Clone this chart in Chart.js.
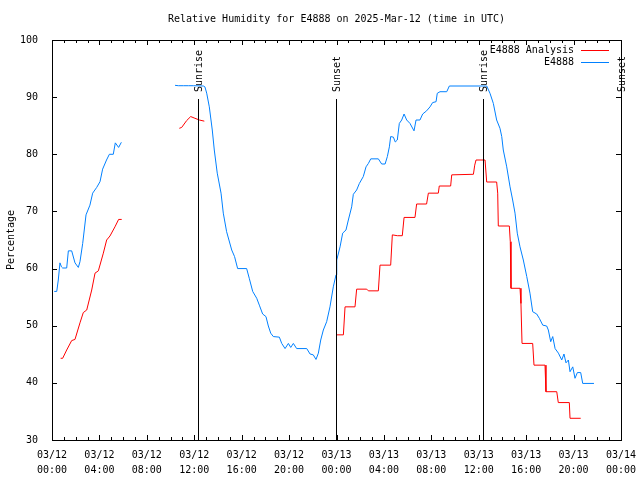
<!DOCTYPE html>
<html>
<head>
<meta charset="utf-8">
<title>Relative Humidity for E4888</title>
<script src="https://cdn.jsdelivr.net/npm/chart.js@4.4.1/dist/chart.umd.min.js"></script>
<style>
    body { margin: 0; background: #fff; }
    canvas { display: block; }
</style>
</head>
<body>
<canvas id="rhChart" width="640" height="480"></canvas>
<script>
// hours since 03/12 00:00 UTC
const stationHours = [0.19, 0.4, 0.53, 0.67, 0.8, 0.9, 1.24, 1.38, 1.66, 1.94, 2.22, 2.36, 2.59, 2.87, 3.2, 3.43, 3.77, 4.05, 4.27, 4.6, 4.84, 5.17, 5.34, 5.62, 5.85,
    8,
    10.38, 10.66, 11.08, 11.5, 11.92, 12.77, 12.9, 13.05, 13.27, 13.52, 13.69, 13.94, 14.26, 14.45, 14.73, 15.16, 15.4, 15.66, 16.42, 16.64, 16.93, 17.27, 17.49, 17.77,
    18.05, 18.25, 18.45, 18.67, 19.18, 19.38, 19.66, 19.94, 20.14, 20.36, 20.64, 21.49, 21.77, 22.04, 22.27, 22.47, 22.67, 22.89, 23.17, 23.45, 23.73, 23.96,
    24.02, 24.3, 24.52, 24.8, 25.0, 25.28, 25.42, 25.7, 25.93, 26.26, 26.49, 26.69, 26.89, 27.53, 27.81, 28.1, 28.29, 28.46, 28.57, 28.8, 28.96, 29.13, 29.3,
    29.5, 29.7, 29.92, 30.2, 30.54, 30.71, 31.04, 31.27, 31.6, 31.89, 32.11, 32.4, 32.5, 32.73, 33.3, 33.52, 36.67, 36.95, 37.23, 37.51, 37.79, 37.94, 38.07,
    38.36, 38.64, 38.86, 39.06, 39.25, 39.48, 39.76, 40.05, 40.32, 40.55, 40.89, 41.11, 41.4, 41.73, 41.87, 42.07, 42.24, 42.44, 42.72, 43.0, 43.19, 43.36,
    43.56, 43.7, 43.93, 44.12, 44.32, 44.6, 44.77, 45.72];
const stationValues = [56, 56, 58, 61, 60.3, 60.1, 60.1, 63.1, 63.1, 61, 60.2, 61.2, 64.4, 69.4, 71.1, 73.2, 74.2, 75.2, 77.4, 79, 80, 80, 82, 81.2, 82.1,
    null,
    92.07, 92, 92, 92, 92, 91.95, 91.8, 90.7, 88.3, 84.25, 80.75, 76.7, 73.2, 69.7, 66.45, 63.25, 62.1, 60, 60, 58.3, 56, 54.8, 53.6, 52.05,
    51.6, 49.95, 48.7, 48.1, 48, 46.9, 46, 46.9, 46.2, 46.9, 46, 46, 45.05, 44.9, 44.1, 45.2, 47.5, 49.25, 50.7, 53.3, 56.8, 58.9,
    61.5, 63.8, 66.2, 66.75, 68.5, 70.8, 73, 73.75, 74.9, 76.1, 77.8, 78.4, 79.2, 79.2, 78.3, 78.3, 79.6, 81.3, 83.1, 83.0, 82.15, 82.5, 85.4,
    86, 87.05, 86, 85.4, 84.1, 86, 86, 87.05, 87.6, 88.3, 89.05, 89.2, 90.67, 90.95, 90.95, 91.95, 91.95, 90.67, 88.9, 86, 84.55, 83.1, 80.75,
    77.8, 74.3, 72, 69.7, 66.2, 63.8, 61.5, 58.6, 55.7, 52.45, 52.05, 51.3, 50.1, 49.95, 49.25, 47.2, 48.1, 46, 45.2, 44, 45.05, 43.5,
    44, 41.95, 42.8, 40.8, 41.8, 41.8, 39.9, 39.9];

const analysisHours = [0.73, 0.9, 1.24, 1.66, 1.94, 2.36, 2.64, 2.93, 3.35, 3.63, 3.91, 4.33, 4.61, 4.89, 5.31, 5.62, 5.88,
    8,
    10.74, 10.94, 11.36, 11.7, 12.06, 12.43, 12.85,
    18,
    24.02, 24.58, 24.72, 25.56, 25.7, 26.55, 26.69, 27.53, 27.67, 28.57, 28.71, 29.13, 29.55, 29.7, 30.62, 30.76, 31.6, 31.75, 32.59, 32.67,
    33.63, 33.72, 35.55, 35.66, 35.77, 36.53, 36.67, 37.51, 37.6, 37.65, 38.58, 38.66, 38.72, 39.48, 39.56, 39.65, 40.55, 40.66, 41.59, 41.67,
    42.58, 42.71, 43.64, 43.7, 44.6];
const analysisValues = [44.3, 44.3, 45.75, 47.4, 47.6, 50.5, 52.3, 52.75, 56.25, 59.2, 59.6, 62.7, 65, 65.7, 67.3, 68.6, 68.6,
    null,
    84.55, 84.7, 85.9, 86.6, 86.3, 86, 85.8,
    null,
    48.4, 48.4, 53.3, 53.3, 56.4, 56.4, 56.1, 56.1, 60.6, 60.6, 65.9, 65.75, 65.75, 68.95, 68.95, 71.3, 71.3, 73.2, 73.2, 74.45,
    74.45, 76.4, 76.5, 78.1, 79, 79, 75.15, 75.15, 73.2, 67.45, 67.45, 64.7, 56.55, 56.55, 53.9, 46.9, 46.9, 43.1, 43.1, 38.45,
    38.45, 36.55, 36.55, 33.8, 33.8];

const sunHours = [12.33, 23.97, 36.33, 47.97];
const sunLabels = ['Sunrise', 'Sunset', 'Sunrise', 'Sunset'];

const xTickLabels = [
    ['03/12', '00:00'], ['03/12', '04:00'], ['03/12', '08:00'], ['03/12', '12:00'], ['03/12', '16:00'], ['03/12', '20:00'],
    ['03/13', '00:00'], ['03/13', '04:00'], ['03/13', '08:00'], ['03/13', '12:00'], ['03/13', '16:00'], ['03/13', '20:00'],
    ['03/14', '00:00']
];

const FONT = '"DejaVu Sans Mono", "Liberation Mono", monospace';

function toPoints(hours, values) {
    return hours.map((h, i) => ({ x: h, y: values[i] }));
}

// gnuplot style frame, inward ticks, sun lines, title and legend
const framePlugin = {
    id: 'frame',
    afterDraw(chart) {
        const c = chart.ctx;
        const a = chart.chartArea;
        const xs = chart.scales.x;
        const ys = chart.scales.y;
        c.save();
        c.strokeStyle = '#000';
        c.lineWidth = 1;
        c.strokeRect(Math.round(a.left) + 0.5, Math.round(a.top) + 0.5, Math.round(a.right - a.left), Math.round(a.bottom - a.top));

        c.beginPath();
        for (let h = 0; h <= 48; h++) {
            const x = Math.round(xs.getPixelForValue(h)) + 0.5;
            const len = h % 4 === 0 ? 5 : 3;
            c.moveTo(x, a.bottom);
            c.lineTo(x, a.bottom - len);
            c.moveTo(x, a.top);
            c.lineTo(x, a.top + len);
        }
        for (let v = 30; v <= 100; v += 10) {
            const y = Math.round(ys.getPixelForValue(v)) + 0.5;
            c.moveTo(a.left, y);
            c.lineTo(a.left + 5, y);
            c.moveTo(a.right, y);
            c.lineTo(a.right - 5, y);
        }
        c.stroke();

        // sunrise / sunset markers
        c.font = '10px ' + FONT;
        c.fillStyle = '#000';
        sunHours.forEach((h, i) => {
            const x = Math.round(xs.getPixelForValue(h)) + 0.5;
            c.beginPath();
            c.moveTo(x, 99);
            c.lineTo(x, a.bottom);
            c.stroke();
            c.save();
            c.translate(x + 1, 92);
            c.rotate(-Math.PI / 2);
            c.textAlign = 'left';
            c.textBaseline = 'middle';
            c.fillText(sunLabels[i], 0, 0);
            c.restore();
        });

        // title
        c.textAlign = 'center';
        c.textBaseline = 'middle';
        c.fillText('Relative Humidity for E4888 on 2025-Mar-12 (time in UTC)', (a.left + a.right) / 2, 19);

        // y axis title
        c.save();
        c.translate(11, (a.top + a.bottom) / 2);
        c.rotate(-Math.PI / 2);
        c.fillText('Percentage', 0, 0);
        c.restore();

        // legend
        c.textAlign = 'right';
        chart.data.datasets.forEach((ds, i) => {
            const y = 50 + i * 12;
            c.fillStyle = '#000';
            c.fillText(ds.label, 574, y);
            c.strokeStyle = ds.borderColor;
            c.beginPath();
            c.moveTo(581, y + 0.5);
            c.lineTo(609, y + 0.5);
            c.stroke();
        });
        c.restore();
    }
};

const ctx = document.getElementById('rhChart').getContext('2d');

new Chart(ctx, {
    type: 'line',
    data: {
        datasets: [
            {
                label: 'E4888 Analysis',
                data: toPoints(analysisHours, analysisValues),
                borderColor: '#ff0000',
                borderWidth: 1,
                pointRadius: 0,
                tension: 0,
                spanGaps: false
            },
            {
                label: 'E4888',
                data: toPoints(stationHours, stationValues),
                borderColor: '#0080ff',
                borderWidth: 1,
                pointRadius: 0,
                tension: 0,
                spanGaps: false
            }
        ]
    },
    options: {
        responsive: false,
        animation: false,
        devicePixelRatio: 1,
        layout: {
            padding: { top: 40, right: 19, left: 0, bottom: 0 }
        },
        plugins: {
            legend: { display: false },
            title: { display: false },
            tooltip: { enabled: false }
        },
        scales: {
            x: {
                type: 'linear',
                min: 0,
                max: 48,
                grid: { display: false },
                border: { display: false },
                afterFit: function (scale) { scale.height = 40; },
                ticks: {
                    stepSize: 4,
                    maxRotation: 0,
                    autoSkip: false,
                    padding: 0,
                    color: '#000',
                    font: { family: FONT, size: 10, lineHeight: 1.5 },
                    callback: function (value) {
                        return xTickLabels[Math.round(value / 4)];
                    }
                }
            },
            y: {
                min: 30,
                max: 100,
                grid: { display: false },
                border: { display: false },
                afterFit: function (scale) { scale.width = 52; },
                ticks: {
                    stepSize: 10,
                    padding: 6,
                    color: '#000',
                    font: { family: FONT, size: 10 }
                }
            }
        }
    },
    plugins: [framePlugin]
});
</script>
</body>
</html>
